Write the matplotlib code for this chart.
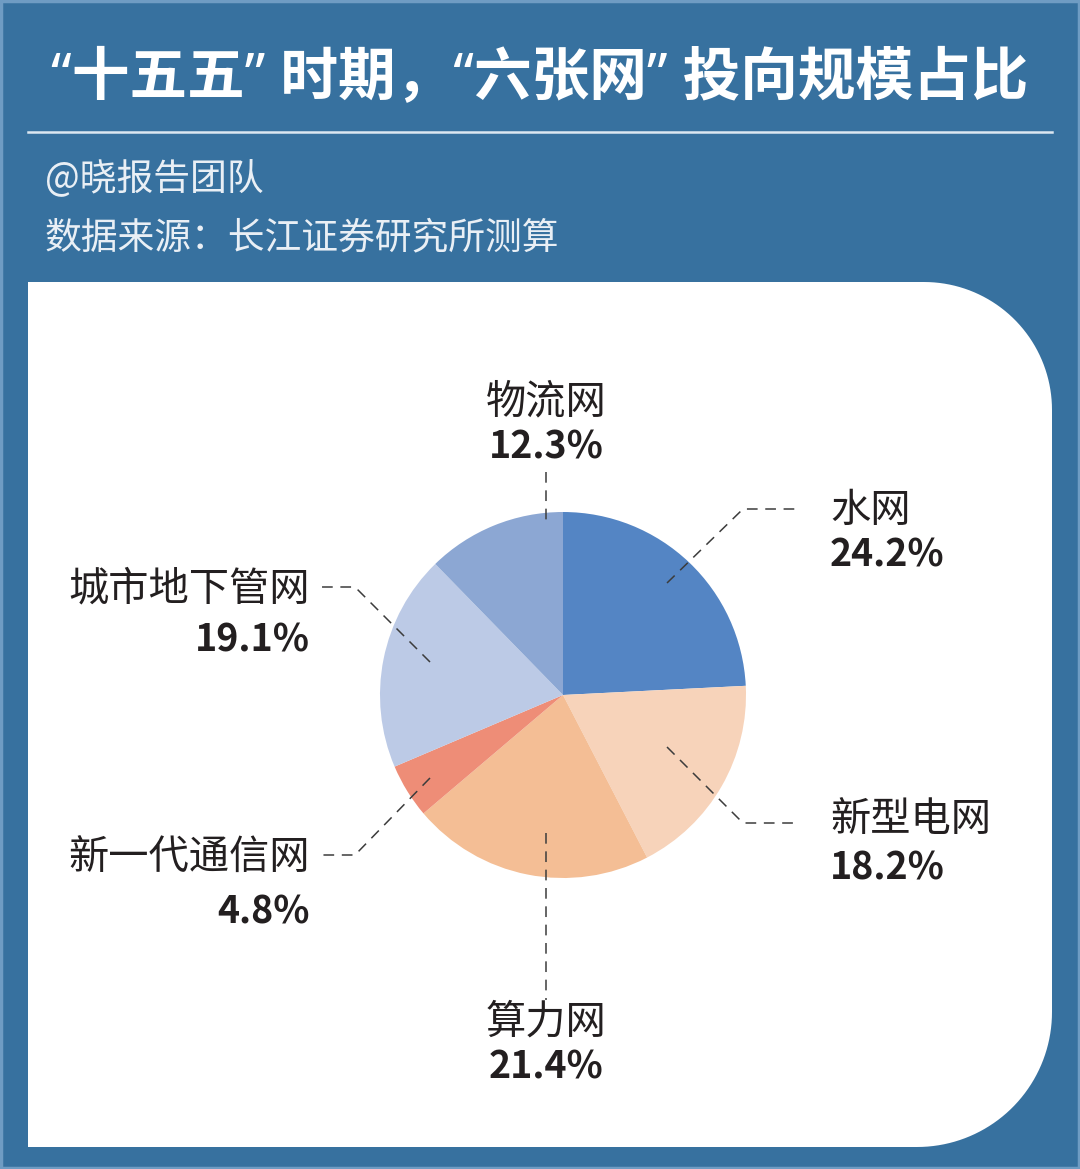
import numpy as np
import matplotlib
matplotlib.use("Agg")
import matplotlib.pyplot as plt
from matplotlib.path import Path
from matplotlib.patches import PathPatch, Rectangle

plt.rcParams['font.family'] = ['Noto Sans CJK SC', 'DejaVu Sans']

# ---- data ----
categories = ["水网", "新型电网", "算力网", "新一代通信网", "城市地下管网", "物流网"]
shares = [24.2, 18.2, 21.4, 4.8, 19.1, 12.3]
colors = ["#5485c4", "#f7d3ba", "#f4be95", "#ee8d77", "#bccae6", "#8ca7d3"]

title = "“十五五” 时期，“六张网” 投向规模占比"
author = "@晓报告团队"
source = "数据来源：长江证券研究所测算"

W, H = 1080, 1169
BG = "#37719f"
TXT = "#231f20"


def Y(y):
    # pixel row (top down) -> data y
    return H - y


fig = plt.figure(figsize=(W / 100, H / 100), dpi=100)
fig.patch.set_facecolor(BG)
ax = fig.add_axes([0, 0, 1, 1])
ax.set_facecolor(BG)

# light outer border
ax.add_patch(Rectangle((1, 1), W - 2, H - 2, fill=False, ec="#6f9cc3", lw=2.5))

# header (latin quotes come from Noto Sans so they stay narrow)
ax.text(540, Y(80), title, color="white", fontsize=41.5, fontweight="bold",
        ha="center", va="center", family=["Noto Sans", "Noto Sans CJK SC"])
ax.plot([28, 1052], [Y(132), Y(132)], color="#dce7f1", lw=1.8)
ax.text(45, Y(180), author, color="#e9eff5", fontsize=26.5, ha="left", va="center")
ax.text(45, Y(238), source, color="#e9eff5", fontsize=26.5, ha="left", va="center")

# white panel, square left corners, rounded right corners
left, top, right, bottom = 28, 282, 1052, 1147
r1, r2 = 128, 135
t = np.linspace(0, np.pi / 2, 40)
pts = [(left, Y(bottom)), (left, Y(top)), (right - r1, Y(top))]
# top-right arc
cx, cy = right - r1, Y(top) - r1
pts += [(cx + r1 * np.sin(a), cy + r1 * np.cos(a)) for a in t]
# bottom-right arc
cx, cy = right - r2, Y(bottom) + r2
pts += [(cx + r2 * np.cos(a), cy - r2 * np.sin(a)) for a in t]
pts.append((left, Y(bottom)))
ax.add_patch(PathPatch(Path(pts), fc="white", ec="none"))

# pie
ax.pie(shares, colors=colors, startangle=90, counterclock=False,
       center=(563, Y(695)), radius=183, frame=True,
       wedgeprops=dict(linewidth=0))

# leader lines (pixel coordinates)
leaders = [
    [(667, 583), (743, 509), (800, 509)],
    [(667, 747), (743, 823), (800, 823)],
    [(546, 833), (546, 1000)],
    [(430, 778), (355, 855), (322, 855)],
    [(430, 662), (355, 587), (322, 587)],
    [(546, 472), (546, 520)],
]
for seg in leaders:
    xs = [p[0] for p in seg]
    ys = [Y(p[1]) for p in seg]
    ax.plot(xs, ys, color="#3c3c3c", lw=1.1, ls=(0, (7, 5)))

# labels: (x, name_y, pct_y, ha)
label_pos = [
    (830, 510, 555, "left"),
    (830, 819, 868, "left"),
    (546, 1022, 1067, "center"),
    (310, 858, 912, "right"),
    (310, 589, 640, "right"),
    (546, 402, 447, "center"),
]
for name, val, (x, ny, py, ha) in zip(categories, shares, label_pos):
    ax.text(x, Y(ny), name, color=TXT, fontsize=29, fontweight="medium",
            ha=ha, va="center")
    ax.text(x, Y(py), f"{val:.1f}%", color=TXT, fontsize=27, fontweight="bold",
            ha=ha, va="center")

ax.set_xlim(0, W)
ax.set_ylim(0, H)
ax.set_aspect("auto")
ax.axis("off")

fig.savefig("out.png", dpi=100, facecolor=BG)
